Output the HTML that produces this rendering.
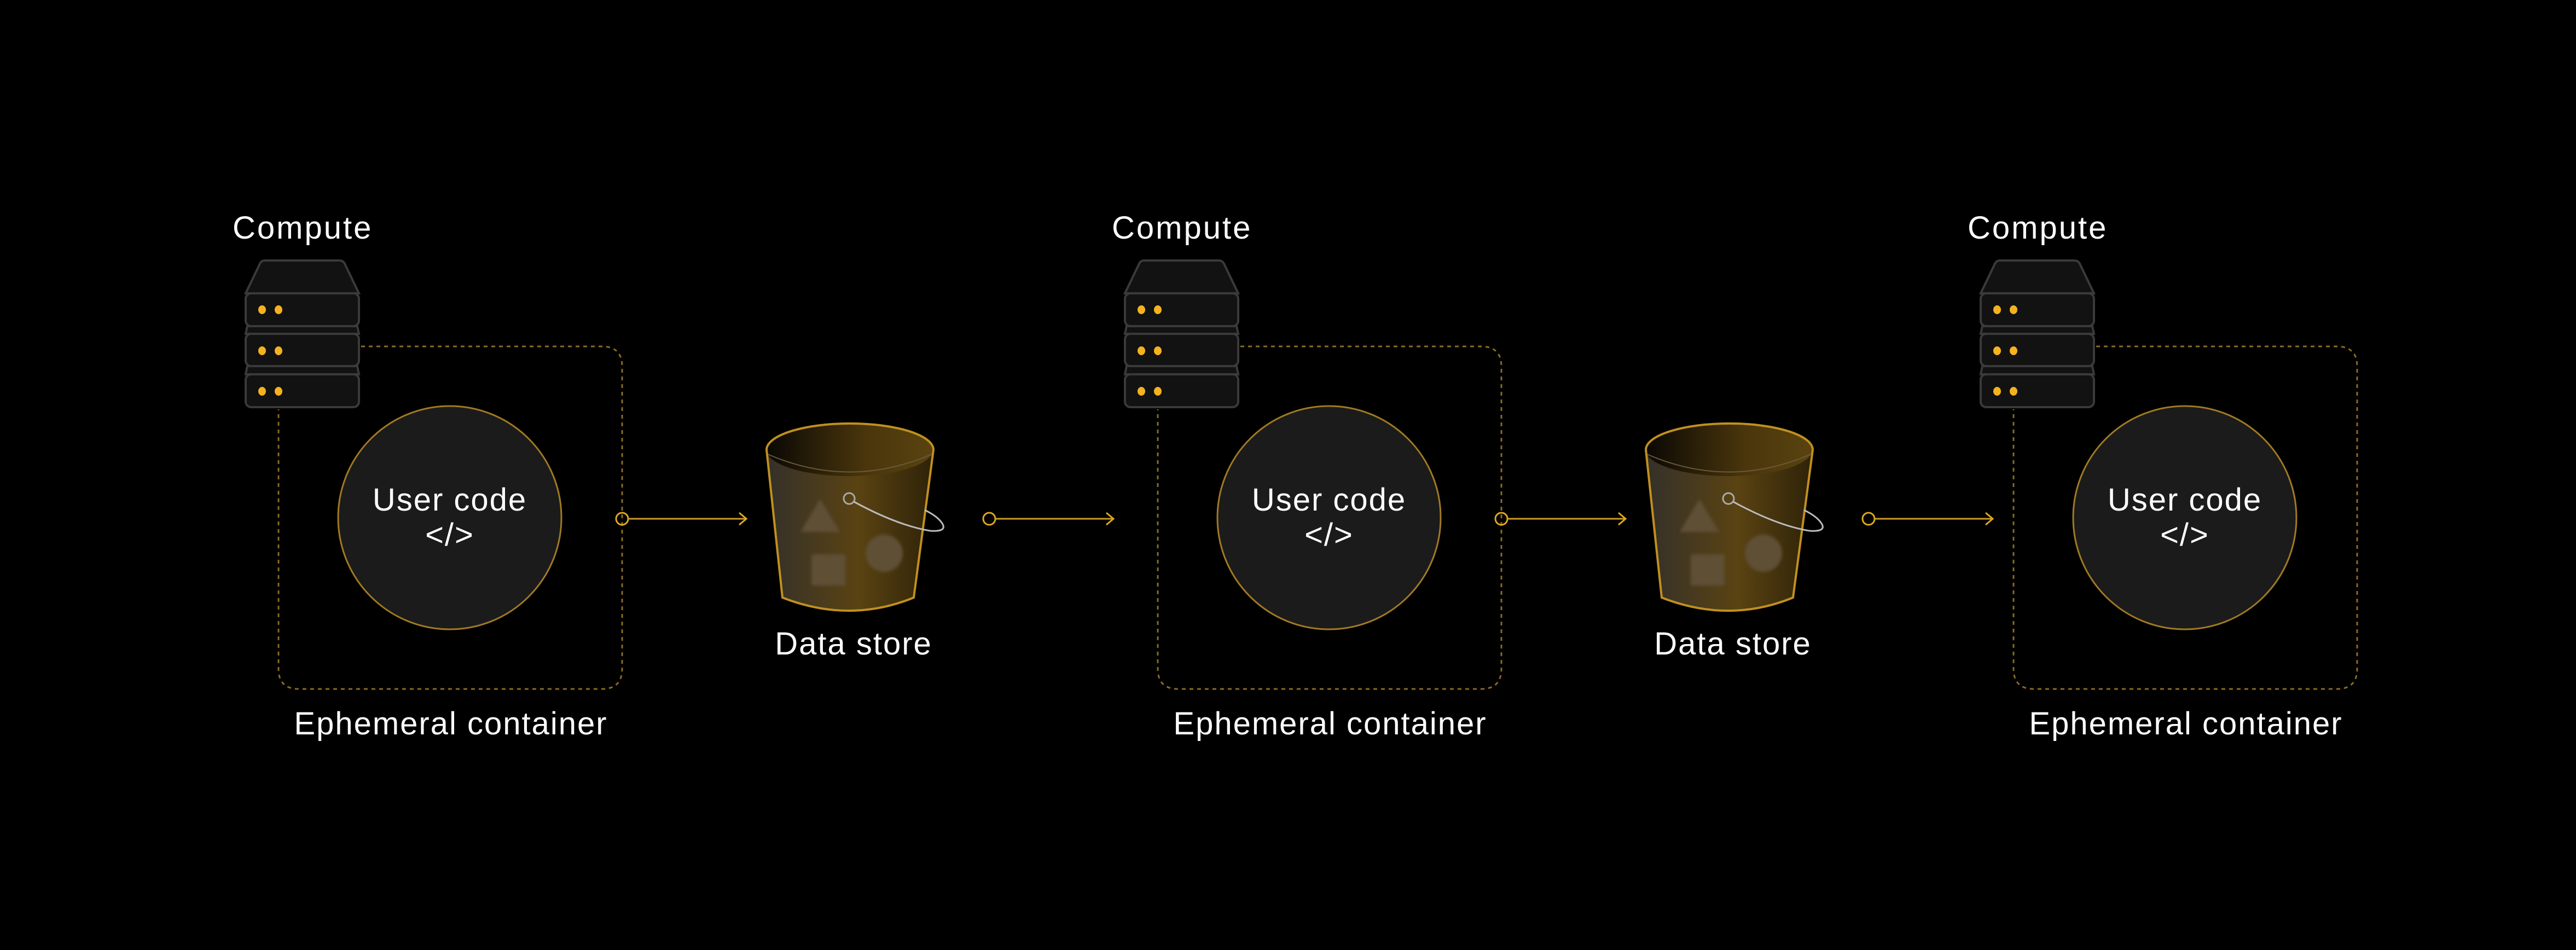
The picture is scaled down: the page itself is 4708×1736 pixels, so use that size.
<!DOCTYPE html>
<html><head><meta charset="utf-8"><style>
html,body{margin:0;padding:0;background:#000;}
svg{display:block;}
text{font-family:"Liberation Sans",sans-serif;fill:#fff;}
</style></head><body>
<svg width="4708" height="1736" viewBox="0 0 4708 1736" xmlns="http://www.w3.org/2000/svg">
<defs>
<linearGradient id="body" x1="0" x2="1" y1="0" y2="0">
<stop offset="0" stop-color="#34302a"/><stop offset="0.55" stop-color="#5a4312"/><stop offset="1" stop-color="#2e2208"/>
</linearGradient>
<linearGradient id="inner" x1="0" x2="1" y1="0" y2="0">
<stop offset="0" stop-color="#0a0804"/><stop offset="0.6" stop-color="#4a360c"/><stop offset="1" stop-color="#5a4310"/>
</linearGradient>
<filter id="bl"><feGaussianBlur stdDeviation="3"/></filter>
<g id="server">
<path d="M484 476 H620 Q628 476 631 484 L656 536 H449 L474 484 Q477 476 484 476 Z" fill="#121212" stroke="#3a3a3a" stroke-width="4"/>
<path d="M452 596 H653 L656 610 H449 Z" fill="#121212" stroke="#3a3a3a" stroke-width="4"/>
<path d="M452 669 H653 L656 684 H449 Z" fill="#121212" stroke="#3a3a3a" stroke-width="4"/>
<rect x="449" y="536" width="207" height="60" rx="10" fill="#121212" stroke="#3a3a3a" stroke-width="4"/>
<rect x="449" y="610" width="207" height="59" rx="10" fill="#121212" stroke="#3a3a3a" stroke-width="4"/>
<rect x="449" y="684" width="207" height="60" rx="10" fill="#121212" stroke="#3a3a3a" stroke-width="4"/>
<g fill="#f5b21f">
<ellipse cx="479" cy="566" rx="7" ry="8"/><ellipse cx="509" cy="566" rx="7" ry="8"/>
<ellipse cx="479" cy="641" rx="7" ry="8"/><ellipse cx="509" cy="641" rx="7" ry="8"/>
<ellipse cx="479" cy="715" rx="7" ry="8"/><ellipse cx="509" cy="715" rx="7" ry="8"/>
</g>
</g>
<g id="cont">
<path d="M660 633 H1100 Q1137 633 1137 670 V1222 Q1137 1259 1100 1259 H546 Q509 1259 509 1222 V748" fill="none" stroke="#8a6a22" stroke-width="3" stroke-dasharray="7 7"/>
<circle cx="822" cy="946" r="204" fill="#1b1b1b" stroke="#a07a22" stroke-width="3"/>
</g>
<g id="bucket">
<path d="M1401 822 L1430 1092 Q1553 1140 1670 1092 L1706 822 Z" fill="url(#body)"/>
<ellipse cx="1553" cy="822" rx="152" ry="48" fill="url(#inner)"/>
<path d="M1403 830 Q1553 895 1703 830" fill="none" stroke="#6a5a3a" stroke-width="2"/>
<g fill="#5e5035" filter="url(#bl)">
<path d="M1499 912 L1535 972 H1463 Z"/>
<rect x="1483" y="1013" width="62" height="57" rx="3"/>
<circle cx="1616" cy="1011" r="34"/>
</g>
<path d="M1401 822 L1430 1092 Q1553 1140 1670 1092 L1706 822 A152 48 0 0 0 1401 822 Z" fill="none" stroke="#c0901f" stroke-width="4"/>
<circle cx="1552" cy="911" r="10" fill="none" stroke="#aaa" stroke-width="3"/>
<path d="M1561 917 Q1640 960 1700 970 Q1730 972 1723 958 Q1715 944 1690 932" fill="none" stroke="#bbb" stroke-width="3"/>
</g>
<g id="conn">
<circle cx="0" cy="0" r="11" fill="none" stroke="#e0a820" stroke-width="3"/>
<line x1="11" y1="0" x2="226" y2="0" stroke="#c99a2a" stroke-width="3"/>
<path d="M214 -11 L227 0 L214 11" fill="none" stroke="#e0a820" stroke-width="3"/>
</g>
</defs>

<use href="#cont"/><use href="#server"/>
<use href="#cont" transform="translate(1607,0)"/><use href="#server" transform="translate(1607,0)"/>
<use href="#cont" transform="translate(3171,0)"/><use href="#server" transform="translate(3171,0)"/>
<use href="#bucket"/><use href="#bucket" transform="translate(1607,0)"/>
<use href="#conn" transform="translate(1137,948)"/>
<use href="#conn" transform="translate(1808,948)"/>
<use href="#conn" transform="translate(2744,948)"/>
<use href="#conn" transform="translate(3415,948)"/>

<g font-size="58">
<g letter-spacing="3">
<text x="425" y="436">Compute</text>
<text x="2032" y="436">Compute</text>
<text x="3596" y="436">Compute</text>
</g>
<g text-anchor="middle" letter-spacing="2">
<text x="822" y="933">User code</text><text x="822" y="997">&lt;/&gt;</text>
<text x="2429" y="933">User code</text><text x="2429" y="997">&lt;/&gt;</text>
<text x="3993" y="933">User code</text><text x="3993" y="997">&lt;/&gt;</text>
<text x="1560" y="1196">Data store</text>
<text x="3167" y="1196">Data store</text>
<text x="824" y="1342">Ephemeral container</text>
<text x="2431" y="1342">Ephemeral container</text>
<text x="3995" y="1342">Ephemeral container</text>
</g>
</g>
</svg>
</body></html>
